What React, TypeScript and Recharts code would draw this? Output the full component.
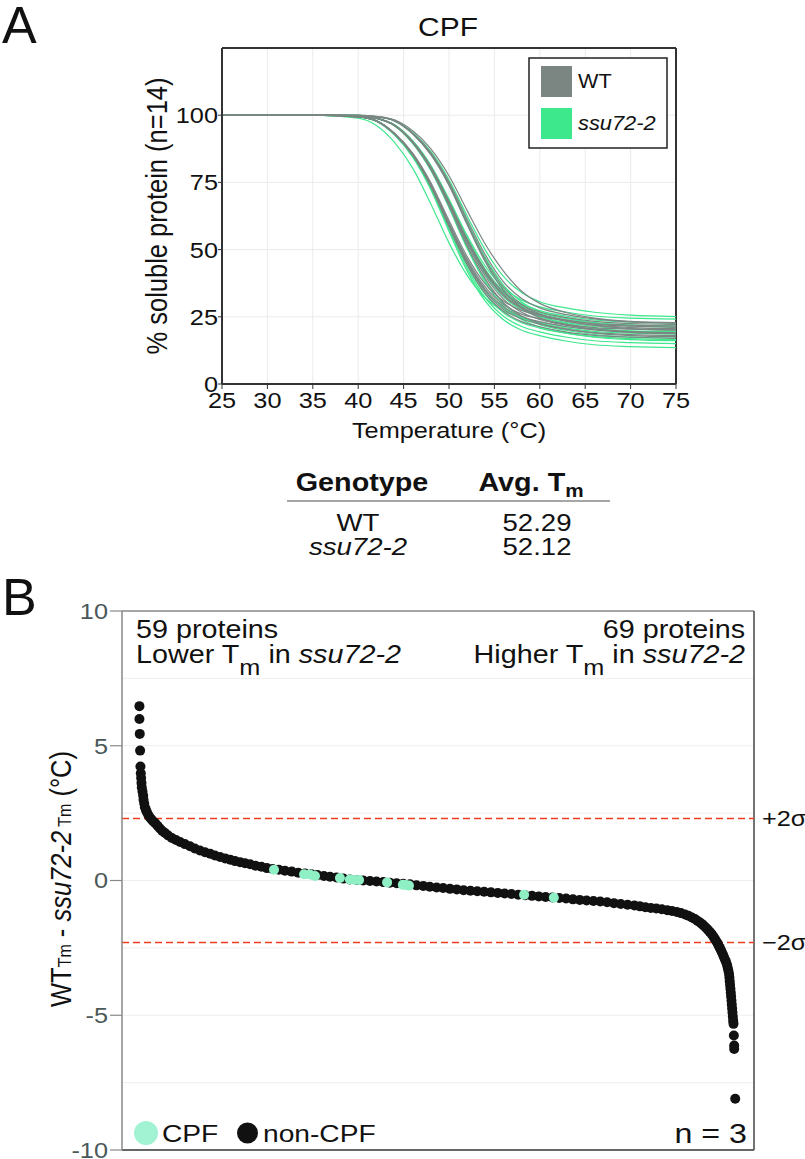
import React from 'react'
import {
  LineChart, Line, ScatterChart, Scatter, XAxis, YAxis,
  CartesianGrid, ReferenceLine,
} from 'recharts'

const FONT = '"Liberation Sans", Arial, Helvetica, sans-serif'

// panel A: melting curves, % soluble protein per temperature
const temps = [25, 35, 40, 42, 44, 46, 48, 50, 52, 54, 56, 58, 60, 63, 66, 70, 75]
const xTicksA = [25, 30, 35, 40, 45, 50, 55, 60, 65, 70, 75]
const yTicksA = [0, 25, 50, 75, 100]

const wtCurves: number[][] = [
  [100, 100, 99.4, 97.9, 93.2, 85.6, 74.4, 60.0, 46.4, 36.0, 29.6, 26.0, 24.2, 22.2, 21.0, 20.4, 20.0],
  [100, 100, 99.4, 97.9, 93.0, 85.2, 73.8, 59.0, 45.1, 34.4, 27.8, 24.2, 22.3, 20.3, 19.1, 18.4, 18.0],
  [100, 100, 99.8, 98.9, 96.3, 90.1, 80.6, 67.6, 53.4, 41.5, 33.2, 28.5, 25.9, 23.8, 22.3, 21.5, 21.1],
  [100, 100, 99.8, 98.9, 96.2, 89.9, 80.2, 66.8, 52.2, 40.1, 31.6, 26.7, 24.0, 21.8, 20.4, 19.5, 19.1],
  [100, 100, 99.8, 98.8, 96.1, 89.7, 79.8, 66.2, 51.3, 39.0, 30.3, 25.3, 22.6, 20.4, 18.9, 18.0, 17.6],
  [100, 100, 99.9, 99.4, 97.9, 93.2, 85.6, 74.4, 60.0, 46.4, 36.0, 29.6, 26.0, 23.4, 21.8, 20.6, 20.1],
  [100, 100, 99.9, 99.4, 97.9, 93.1, 85.3, 73.9, 59.3, 45.4, 34.8, 28.3, 24.6, 22.0, 20.3, 19.2, 18.7],
  [100, 100, 99.8, 98.9, 96.3, 90.3, 80.9, 68.0, 54.0, 42.3, 34.1, 29.4, 26.8, 24.7, 23.3, 22.5, 22.1],
  [100, 100, 99.5, 98.0, 93.3, 85.9, 74.9, 60.8, 47.4, 37.2, 30.9, 27.4, 25.6, 23.7, 22.5, 21.9, 21.5],
  [100, 100, 99.9, 99.5, 98.0, 93.4, 86.1, 75.2, 61.3, 48.1, 38.0, 31.8, 28.3, 25.8, 24.2, 23.1, 22.6],
  [100, 100, 99.9, 99.6, 98.3, 94.2, 87.5, 77.5, 64.5, 52.0, 42.0, 34.5, 30.0, 26.5, 24.5, 23.3, 22.8],
  [100, 100, 99.4, 97.9, 93.1, 85.4, 74.1, 59.5, 45.7, 35.2, 28.7, 25.1, 23.2, 21.3, 20.1, 19.4, 19.0],
  [100, 100, 99.8, 98.9, 96.3, 90.1, 80.5, 67.4, 53.1, 41.2, 32.8, 28.1, 25.4, 23.3, 21.9, 21.0, 20.6],
  [100, 100, 99.4, 97.8, 93.0, 85.1, 73.4, 58.5, 44.4, 33.6, 27.0, 23.2, 21.3, 19.3, 18.1, 17.4, 17.0],
]

const ssuCurves: number[][] = [
  [100, 100, 99.4, 97.8, 92.6, 84.4, 72.3, 56.8, 42.0, 30.8, 23.9, 20.0, 18.0, 15.9, 14.6, 13.9, 13.5],
  [100, 100, 99.4, 97.8, 92.8, 84.7, 72.8, 57.5, 43.1, 32.0, 25.2, 21.4, 19.4, 17.4, 16.1, 15.4, 15.0],
  [100, 100, 99.7, 98.8, 96.1, 89.5, 79.4, 65.6, 50.4, 37.8, 29.0, 24.0, 21.2, 18.9, 17.4, 16.5, 16.1],
  [100, 100, 99.9, 99.5, 98.1, 93.6, 86.5, 76.0, 62.5, 49.8, 40.0, 34.0, 30.6, 28.2, 26.7, 25.6, 25.1],
  [100, 100, 99.8, 98.9, 96.4, 90.5, 81.4, 68.8, 55.2, 43.8, 35.8, 31.2, 28.7, 26.7, 25.3, 24.5, 24.1],
  [100, 100, 99.4, 97.8, 92.9, 85.0, 73.3, 58.3, 44.1, 33.2, 26.5, 22.8, 20.8, 18.8, 17.6, 16.9, 16.5],
  [100, 100, 99.9, 99.4, 97.9, 93.1, 85.4, 74.1, 59.5, 45.7, 35.2, 28.7, 25.1, 22.5, 20.8, 19.6, 19.1],
  [100, 100, 99.8, 98.9, 96.2, 90.0, 80.4, 67.2, 52.8, 40.8, 32.4, 27.6, 25.0, 22.8, 21.4, 20.5, 20.1],
  [100, 100, 99.9, 99.4, 97.9, 93.3, 85.8, 74.7, 60.5, 47.1, 36.8, 30.5, 26.9, 24.4, 22.7, 21.6, 21.1],
  [100, 100, 99.4, 97.9, 93.1, 85.3, 73.9, 59.3, 45.4, 34.8, 28.3, 24.6, 22.7, 20.8, 19.6, 18.9, 18.5],
  [100, 100, 99.8, 98.8, 96.1, 89.6, 79.7, 66.0, 51.0, 38.6, 29.9, 24.9, 22.1, 19.9, 18.4, 17.5, 17.1],
  [100, 100, 99.8, 98.9, 96.3, 90.2, 80.8, 67.8, 53.7, 41.9, 33.7, 29.0, 26.4, 24.3, 22.8, 22.0, 21.6],
  [100, 100, 98.9, 96.2, 89.9, 80.3, 67.0, 52.5, 40.4, 32.0, 27.2, 24.5, 23.0, 21.3, 20.3, 19.8, 19.5],
  [100, 100, 99.8, 98.9, 96.4, 90.3, 81.0, 68.2, 54.3, 42.7, 34.5, 29.9, 27.3, 25.2, 23.8, 23.0, 22.6],
]

const genotypes = ['WT', 'ssu72-2']
const avgTm = ['52.29', '52.12']

// panel B: protein rank vs WT Tm - ssu72-2 Tm
const yTicksB = [-10, -5, 0, 5, 10]
const gridB = [7.5, 5, 2.5, 0, -2.5, -5, -7.5]
const sigmaLines = [2.3, -2.3]

const nonCpfPoints: [number, number][] = [
  [51, 6.47], [51, 5.99], [52, 5.44], [53, 4.82], [54, 4.23],
  [55, 3.98], [56, 3.8], [57, 3.62], [58, 3.45], [60, 3.3], [62, 3.15], [63, 3.0], [65, 2.86],
  [67, 2.72], [70, 2.62], [73, 2.53], [77, 2.43], [81, 2.35], [86, 2.27], [91, 2.2], [97, 2.13],
  [104, 2.03], [111, 1.93], [118, 1.84], [126, 1.76], [135, 1.67], [146, 1.58], [158, 1.5],
  [170, 1.43], [184, 1.35], [199, 1.27], [213, 1.19], [228, 1.11], [243, 1.05], [258, 0.99],
  [272, 0.93], [287, 0.87], [302, 0.82], [317, 0.77], [331, 0.72], [346, 0.68], [360, 0.64],
  [375, 0.6], [391, 0.55], [408, 0.51], [424, 0.46], [441, 0.43], [459, 0.4], [477, 0.36],
  [497, 0.33], [516, 0.29], [536, 0.26], [554, 0.23], [572, 0.2], [591, 0.17], [609, 0.14],
  [628, 0.11], [648, 0.07], [667, 0.04], [687, 0.02], [706, 0.0], [726, -0.02], [745, -0.04],
  [765, -0.06], [784, -0.08], [804, -0.1], [823, -0.12], [843, -0.14], [862, -0.18], [882, -0.2],
  [901, -0.23], [921, -0.26], [940, -0.28], [960, -0.31], [980, -0.33], [1000, -0.36],
  [1020, -0.38], [1040, -0.4], [1060, -0.42], [1080, -0.44], [1100, -0.46], [1120, -0.48],
  [1140, -0.5], [1160, -0.53], [1180, -0.55], [1200, -0.57], [1220, -0.59], [1240, -0.61],
  [1260, -0.63], [1280, -0.65], [1300, -0.67], [1320, -0.7], [1340, -0.72], [1360, -0.74],
  [1380, -0.76], [1400, -0.78], [1420, -0.81], [1440, -0.84], [1460, -0.87], [1480, -0.9],
  [1500, -0.93], [1516, -0.96], [1532, -0.99], [1548, -1.02], [1564, -1.04], [1580, -1.07],
  [1596, -1.1], [1610, -1.13], [1624, -1.17], [1636, -1.21], [1648, -1.26], [1658, -1.31],
  [1668, -1.37], [1677, -1.43], [1685, -1.5], [1692, -1.56], [1698, -1.62], [1704, -1.69],
  [1710, -1.76], [1715, -1.83], [1720, -1.9], [1725, -1.97], [1729, -2.04], [1733, -2.12],
  [1737, -2.2], [1741, -2.28], [1744, -2.35], [1747, -2.43], [1750, -2.5], [1753, -2.58],
  [1756, -2.66], [1759, -2.75], [1762, -2.84], [1765, -2.93], [1768, -3.02], [1771, -3.13],
  [1773, -3.24], [1775, -3.35], [1777, -3.47], [1778, -3.6], [1779, -3.74], [1780, -3.88],
  [1781, -4.02], [1782, -4.16], [1783, -4.3], [1784, -4.45], [1785, -4.6], [1786, -4.75],
  [1787, -4.9], [1788, -5.05], [1789, -5.2], [1790, -5.32], [1791, -5.75], [1792, -6.12],
  [1792, -6.25], [1795, -8.1],
]

const cpfPoints: [number, number][] = [
  [445, 0.4], [533, 0.23], [550, 0.22], [565, 0.17], [638, 0.09], [667, 0.04], [682, 0.02],
  [694, 0.02], [776, -0.07], [822, -0.16], [831, -0.17], [840, -0.19], [1177, -0.53], [1264, -0.64],
]

const WT_COLOR = '#7b8683'
const SSU_COLOR = '#3de88c'
const CPF_COLOR = '#8ff0c6'

const curveRows = temps.map((t, i) => {
  const row: Record<string, number> = { temp: t }
  wtCurves.forEach((c, k) => { row[`wt${k}`] = c[i] })
  ssuCurves.forEach((c, k) => { row[`ssu${k}`] = c[i] })
  return row
})

const toPoints = (pts: [number, number][]) => pts.map(([rank, dtm]) => ({ rank, dtm }))

function Txt({ x, y, size, anchor = 'start', weight, italic, fill = '#111', sx = 1.15, children }: any) {
  return (
    <text
      transform={`translate(${x},${y}) scale(${sx},1)`}
      fontSize={size}
      textAnchor={anchor}
      fontWeight={weight}
      fontStyle={italic ? 'italic' : undefined}
      fill={fill}
      fontFamily={FONT}
    >
      {children}
    </text>
  )
}

function StretchTick(props: any) {
  const { x, y, payload, textAnchor, kind, fill, size } = props
  return (
    <text
      transform={`translate(${x},${y}) scale(1.15,1)`}
      textAnchor={textAnchor}
      dy={kind === 'x' ? '0.75em' : '0.36em'}
      fontSize={size}
      fill={fill}
      fontFamily={FONT}
    >
      {payload.value}
    </text>
  )
}

function SigmaLabel(props: any) {
  const { viewBox, text } = props
  if (!viewBox) return null
  return (
    <text
      transform={`translate(${viewBox.x + viewBox.width + 8},${viewBox.y}) scale(1.15,1)`}
      dy="0.36em"
      fontSize={22}
      fill="#111"
      fontFamily={FONT}
    >
      {text}
    </text>
  )
}

const dot = (r: number, color: string) => (p: any) => <circle cx={p.cx} cy={p.cy} r={r} fill={color} />

export default function App() {
  return (
    <div style={{ position: 'absolute', left: 0, top: 0, width: 805, height: 1159, background: '#fff' }}>
      <div style={{ position: 'absolute', left: 0, top: 0 }}>
        <LineChart width={805} height={460} data={curveRows} margin={{ top: 48, right: 129, bottom: 46, left: 162 }}>
          <CartesianGrid stroke="#ebebeb" strokeWidth={1} />
          <XAxis
            type="number"
            dataKey="temp"
            domain={[25, 75]}
            ticks={xTicksA}
            height={30}
            axisLine={{ stroke: '#333', strokeWidth: 2 }}
            tickLine={{ stroke: '#333' }}
            tickSize={5}
            tick={<StretchTick kind="x" size={22} fill="#111" />}
          />
          <YAxis
            type="number"
            domain={[0, 125]}
            ticks={yTicksA}
            width={60}
            axisLine={{ stroke: '#333', strokeWidth: 2 }}
            tickLine={{ stroke: '#333' }}
            tickSize={4}
            tickMargin={0}
            tick={<StretchTick kind="y" size={22} fill="#111" />}
          />
          <ReferenceLine y={125} stroke="#333" strokeWidth={2} />
          <ReferenceLine x={75} stroke="#333" strokeWidth={2} />
          {ssuCurves.map((_, k) => (
            <Line key={`ssu${k}`} dataKey={`ssu${k}`} type="monotone" stroke={SSU_COLOR}
              strokeWidth={1.2} dot={false} isAnimationActive={false} />
          ))}
          {wtCurves.map((_, k) => (
            <Line key={`wt${k}`} dataKey={`wt${k}`} type="monotone" stroke={WT_COLOR}
              strokeWidth={1.2} dot={false} isAnimationActive={false} />
          ))}
        </LineChart>
      </div>

      <div style={{ position: 'absolute', left: 0, top: 560 }}>
        <ScatterChart width={805} height={599} margin={{ top: 51, right: 51, bottom: 9, left: 62 }}>
          <XAxis type="number" dataKey="rank" domain={[0, 1850]} hide />
          <YAxis
            type="number"
            dataKey="dtm"
            domain={[-10, 10]}
            ticks={yTicksB}
            width={60}
            axisLine={{ stroke: '#888', strokeWidth: 1.5 }}
            tickLine={{ stroke: '#888', strokeWidth: 1.2 }}
            tickSize={12}
            tickMargin={2}
            tick={<StretchTick kind="y" size={22} fill="#4a5858" />}
          />
          {gridB.map((v) => (
            <ReferenceLine key={v} y={v} stroke="#eeeeee" strokeWidth={1} />
          ))}
          <ReferenceLine y={10} stroke="#888" strokeWidth={1.5} />
          <ReferenceLine y={-10} stroke="#333" strokeWidth={1.5} />
          <ReferenceLine x={1850} stroke="#444" strokeWidth={1.5} />
          {sigmaLines.map((v) => (
            <ReferenceLine key={v} y={v} stroke="#f03c1e" strokeWidth={1.6} strokeDasharray="7 4"
              label={<SigmaLabel text={v > 0 ? '+2σ' : '−2σ'} />} />
          ))}
          <Scatter data={toPoints(nonCpfPoints)} shape={dot(5, '#111')} isAnimationActive={false} />
          <Scatter data={toPoints(cpfPoints)} shape={dot(5, CPF_COLOR)} isAnimationActive={false} />
        </ScatterChart>
      </div>

      <svg width={805} height={1159} style={{ position: 'absolute', left: 0, top: 0, pointerEvents: 'none' }}>
        <text x={2} y={43} fontSize={52} fontFamily={FONT} fill="#111">A</text>
        <text x={2} y={615} fontSize={52} fontFamily={FONT} fill="#111">B</text>

        <Txt x={448} y={36} size={26} anchor="middle">CPF</Txt>
        <text transform="translate(167,216) rotate(-90) scale(1,1.15)" textAnchor="middle"
          fontSize={25.5} fontFamily={FONT} fill="#111">% soluble protein (n=14)</text>
        <Txt x={449} y={438} size={22} anchor="middle">Temperature (°C)</Txt>

        <rect x={529} y={58} width={138} height={90} fill="#fff" stroke="#222" strokeWidth={1.5} />
        <rect x={541} y={66} width={31} height={31} fill={WT_COLOR} />
        <rect x={541} y={108} width={31} height={31} fill={SSU_COLOR} />
        <Txt x={578} y={88} size={21} sx={1.03}>{genotypes[0]}</Txt>
        <Txt x={578} y={130} size={21} sx={1.04} italic>{genotypes[1]}</Txt>

        <Txt x={362} y={491} size={25} anchor="middle" weight="bold">Genotype</Txt>
        <Txt x={531} y={491} size={25} anchor="middle" weight="bold">
          Avg. T<tspan fontSize={18} dy={6}>m</tspan>
        </Txt>
        <line x1={287} y1={501} x2={610} y2={501} stroke="#888" strokeWidth={1.5} />
        <Txt x={358} y={531} size={24} anchor="middle">{genotypes[0]}</Txt>
        <Txt x={537} y={531} size={24} anchor="middle">{avgTm[0]}</Txt>
        <Txt x={358} y={555} size={24} anchor="middle" italic>{genotypes[1]}</Txt>
        <Txt x={537} y={555} size={24} anchor="middle">{avgTm[1]}</Txt>

        <Txt x={136} y={638} size={25}>59 proteins</Txt>
        <Txt x={136} y={663} size={25}>
          Lower T<tspan fontSize={22} dy={12}>m</tspan><tspan dy={-12}> in </tspan>
          <tspan fontStyle="italic">ssu72-2</tspan>
        </Txt>
        <Txt x={745} y={638} size={25} anchor="end">69 proteins</Txt>
        <Txt x={745} y={663} size={25} anchor="end">
          Higher T<tspan fontSize={22} dy={12}>m</tspan><tspan dy={-12}> in </tspan>
          <tspan fontStyle="italic">ssu72-2</tspan>
        </Txt>

        <text transform="translate(71,879) rotate(-90) scale(1,1.15)" textAnchor="middle"
          fontSize={25.5} fontFamily={FONT} fill="#111">
          WT<tspan fontSize={16}>Tm</tspan> - <tspan fontStyle="italic">ssu72-2</tspan>
          <tspan fontSize={16}> Tm</tspan> (°C)
        </text>

        <circle cx={146} cy={1133} r={12} fill="#a2f3d4" />
        <Txt x={162} y={1142} size={24.5}>CPF</Txt>
        <circle cx={247.5} cy={1133} r={10.5} fill="#111" />
        <Txt x={263} y={1142} size={24.5}>non-CPF</Txt>
        <Txt x={747} y={1143} size={28} anchor="end">n = 3</Txt>
      </svg>
    </div>
  )
}
